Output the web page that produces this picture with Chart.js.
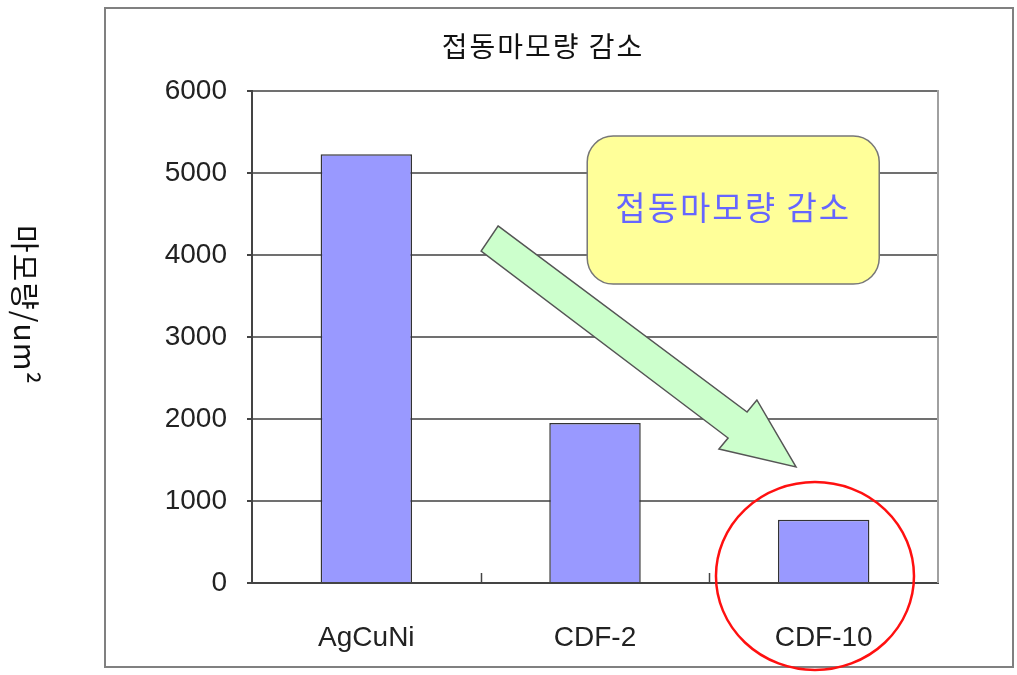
<!DOCTYPE html>
<html>
<head>
<meta charset="utf-8">
<script src="https://cdn.jsdelivr.net/npm/chart.js@4/dist/chart.umd.min.js"></script>
<style>
html,body{margin:0;padding:0;background:#fff;}
#wrap{width:1017px;height:675px;position:relative;}
</style>
</head>
<body>
<div id="wrap"><canvas id="wearChart"></canvas></div>
<script>

// ===============================
// DATA
// ===============================

const categories = ["AgCuNi", "CDF-2", "CDF-10"];

const wearValues = [5230, 1950, 770];

const yMin = 0;
const yMax = 6000;
const yStep = 1000;

const chartTitle = "접동마모량 감소";
const yLabel = "마모량/um²";
const noteText = "접동마모량 감소";

// ===============================
// DECORATION (frame, labels, note box, arrow, circle)
// ===============================

const korFont = "'Noto Sans CJK KR', 'Noto Sans', sans-serif";

const decoPlugin = {

    id: "deco",

    beforeDraw(chart){

        const c = chart.ctx;

        c.save();
        c.fillStyle = "#fff";
        c.fillRect(0, 0, chart.width, chart.height);

        // outer frame
        c.strokeStyle = "#808080";
        c.lineWidth = 2;
        c.strokeRect(105, 8, 908, 659);

        c.restore();

    },

    afterDraw(chart){

        const c = chart.ctx;
        const xs = chart.scales.x;
        const ys = chart.scales.y;
        const area = chart.chartArea;

        c.save();

        // right border of the plot
        c.strokeStyle = "#a0a0a0";
        c.lineWidth = 2;
        c.beginPath();
        c.moveTo(area.right, area.top - 1);
        c.lineTo(area.right, area.bottom);
        c.stroke();

        // small inner ticks between categories
        c.strokeStyle = "#444";
        c.lineWidth = 1.5;
        for(let i = 0; i < categories.length - 1; i++){
            const x = Math.round(xs.getPixelForValue(i + 0.5)) + 0.5;
            c.beginPath();
            c.moveTo(x, area.bottom - 10);
            c.lineTo(x, area.bottom);
            c.stroke();
        }

        // title
        c.fillStyle = "#111";
        c.font = "28px " + korFont;
        c.letterSpacing = "2px";
        c.textAlign = "center";
        c.textBaseline = "middle";
        c.fillText(chartTitle, 543, 46);

        // y axis label, rotated clockwise
        c.save();
        c.translate(25, 305);
        c.rotate(Math.PI / 2);
        c.fillStyle = "#111";
        c.font = "30px " + korFont;
        c.letterSpacing = "1px";
        c.textAlign = "center";
        c.textBaseline = "middle";
        c.fillText(yLabel, 0, 0);
        c.restore();

        // note box
        const bx1 = xs.getPixelForValue(0.966);
        const bx2 = xs.getPixelForValue(2.243);
        const by1 = ys.getPixelForValue(5450);
        const by2 = ys.getPixelForValue(3646);
        c.beginPath();
        c.roundRect(bx1, by1, bx2 - bx1, by2 - by1, 26);
        c.fillStyle = "#ffff99";
        c.fill();
        c.strokeStyle = "#777";
        c.lineWidth = 1.5;
        c.stroke();

        c.fillStyle = "#6666ff";
        c.font = "33px " + korFont;
        c.letterSpacing = "2px";
        c.textAlign = "center";
        c.textBaseline = "middle";
        c.fillText(noteText, (bx1 + bx2) / 2, (by1 + by2) / 2 - 3);
        c.letterSpacing = "0px";

        // arrow
        const arrow = [
            [0.576, 4354],
            [1.665, 2085],
            [1.708, 2232],
            [1.879, 1415],
            [1.542, 1634],
            [1.582, 1768],
            [0.502, 4049]
        ];
        c.beginPath();
        arrow.forEach((p, k)=>{
            const x = xs.getPixelForValue(p[0]);
            const y = ys.getPixelForValue(p[1]);
            if(k === 0) c.moveTo(x, y); else c.lineTo(x, y);
        });
        c.closePath();
        c.fillStyle = "#ccffcc";
        c.fill();
        c.strokeStyle = "#555";
        c.lineWidth = 1.5;
        c.stroke();

        // red circle round the last bar
        const cx = xs.getPixelForValue(1.962);
        const cy = ys.getPixelForValue(85);
        const rx = xs.getPixelForValue(1.962 + 0.433) - cx;
        const ry = cy - ys.getPixelForValue(85 + 1146);
        c.beginPath();
        c.ellipse(cx, cy, rx, ry, 0, 0, Math.PI * 2);
        c.strokeStyle = "#ff1010";
        c.lineWidth = 2.5;
        c.stroke();

        c.restore();

    }

};

// ===============================
// CHART
// ===============================

const ctx = document
.getElementById("wearChart")
.getContext("2d");

const chart = new Chart(ctx,{

    type:"bar",

    data:{

        labels:categories,

        datasets:[{

            data:wearValues,

            backgroundColor:"#9999ff",

            borderColor:"#333",

            borderWidth:1.5,

            barPercentage:0.4,

            categoryPercentage:1

        }]

    },

    options:{

        responsive:true,

        maintainAspectRatio:false,

        animation:false,

        devicePixelRatio:1,

        layout:{

            padding:{left:68, right:79, top:91, bottom:0}

        },

        plugins:{

            legend:{display:false},

            tooltip:{enabled:false},

            title:{display:false}

        },

        scales:{

            x:{

                grid:{display:false},

                border:{color:"#444", width:2},

                ticks:{

                    color:"#222",

                    padding:30,

                    font:{family:"'Liberation Sans', Arial, sans-serif", size:28}

                },

                afterFit(scale){ scale.height = 92; }

            },

            y:{

                min:yMin,

                max:yMax,

                grid:{

                    color:"#707070",

                    lineWidth:2,

                    tickLength:5,

                    tickColor:"#444"

                },

                border:{color:"#444", width:2},

                ticks:{

                    stepSize:yStep,

                    color:"#222",

                    padding:20,

                    font:{family:"'Liberation Sans', Arial, sans-serif", size:28},

                    callback:(v)=>String(v)

                },

                afterFit(scale){ scale.width = 184; }

            }

        }

    },

    plugins:[decoPlugin]

});

</script>
</body>
</html>
